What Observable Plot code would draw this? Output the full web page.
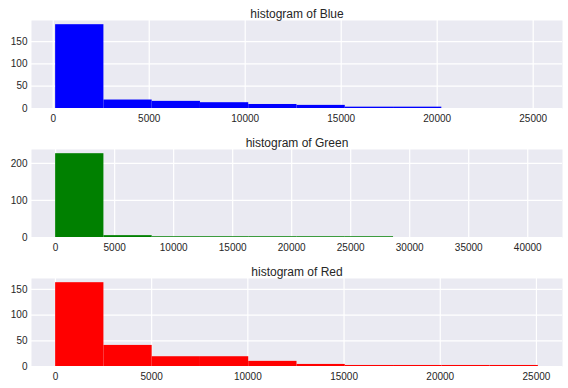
<!DOCTYPE html>
<html>
<head>
<meta charset="utf-8">
<script src="https://cdn.jsdelivr.net/npm/d3@7"></script>
<script src="https://cdn.jsdelivr.net/npm/@observablehq/plot@0.6"></script>
<style>
  html, body { margin: 0; padding: 0; background: #ffffff; }
  #chart svg { display: block; }
</style>
</head>
<body>
<div id="chart"></div>
<script>
// Histogram data (10 equal-width bins per channel)
const channels = ["Blue", "Green", "Red"];
const colors = ["#0000ff", "#008000", "#ff0000"];

const blueRange = [125, 25270];
const blueCounts = [188, 19, 16, 13, 9, 7, 3, 3, 0, 0];

const greenRange = [0, 40900];
const greenCounts = [226, 5, 2, 2, 2, 2, 2, 0, 0, 0];

const redRange = [10, 25100];
const redCounts = [163, 41, 19, 19, 10, 4, 2, 2, 2, 2];

const blueXTicks = [0, 5000, 10000, 15000, 20000, 25000];
const greenXTicks = [0, 5000, 10000, 15000, 20000, 25000, 30000, 35000, 40000];
const redXTicks = [0, 5000, 10000, 15000, 20000, 25000];

const blueYTicks = [0, 50, 100, 150];
const greenYTicks = [0, 100, 200];
const redYTicks = [0, 50, 100, 150];

const FONT = "'Liberation Sans', Arial, 'DejaVu Sans', sans-serif";
const TEXT = "#262626";

function panel(title, range, counts, color, xTicks, yTicks) {
  const n = counts.length;
  const w = (range[1] - range[0]) / n;
  const bins = counts.map((c, i) => ({x1: range[0] + i * w, x2: range[0] + (i + 1) * w, y: c}))
    .filter(d => d.y > 0);
  const pad = 0.05 * (range[1] - range[0]);
  const ymax = d3.max(counts) * 1.05;
  return Plot.plot({
    width: 568,
    height: 129,
    marginTop: 20,
    marginBottom: 21,
    marginLeft: 31,
    marginRight: 6,
    style: {fontFamily: FONT, fontSize: "10px", color: TEXT, background: "#ffffff", overflow: "visible"},
    x: {domain: [range[0] - pad, range[1] + pad], ticks: xTicks, tickSize: 0, tickPadding: 6, tickFormat: d => String(d), label: null},
    y: {domain: [0, ymax], ticks: yTicks, tickSize: 0, tickPadding: 4, tickFormat: d => String(d), label: null},
    marks: [
      Plot.frame({fill: "#eaeaf2", stroke: "none"}),
      Plot.ruleX(xTicks, {stroke: "#ffffff", strokeWidth: 1.2}),
      Plot.ruleY(yTicks, {stroke: "#ffffff", strokeWidth: 1.2}),
      Plot.rectY(bins, {x1: "x1", x2: "x2", y: "y", fill: color, inset: 0}),
      Plot.text([title], {text: d => d, frameAnchor: "top", dy: -11, fontSize: 12, fill: TEXT})
    ]
  });
}

const el = document.getElementById("chart");
el.appendChild(panel("histogram of " + channels[0], blueRange, blueCounts, colors[0], blueXTicks, blueYTicks));
el.appendChild(panel("histogram of " + channels[1], greenRange, greenCounts, colors[1], greenXTicks, greenYTicks));
el.appendChild(panel("histogram of " + channels[2], redRange, redCounts, colors[2], redXTicks, redYTicks));
</script>
</body>
</html>
